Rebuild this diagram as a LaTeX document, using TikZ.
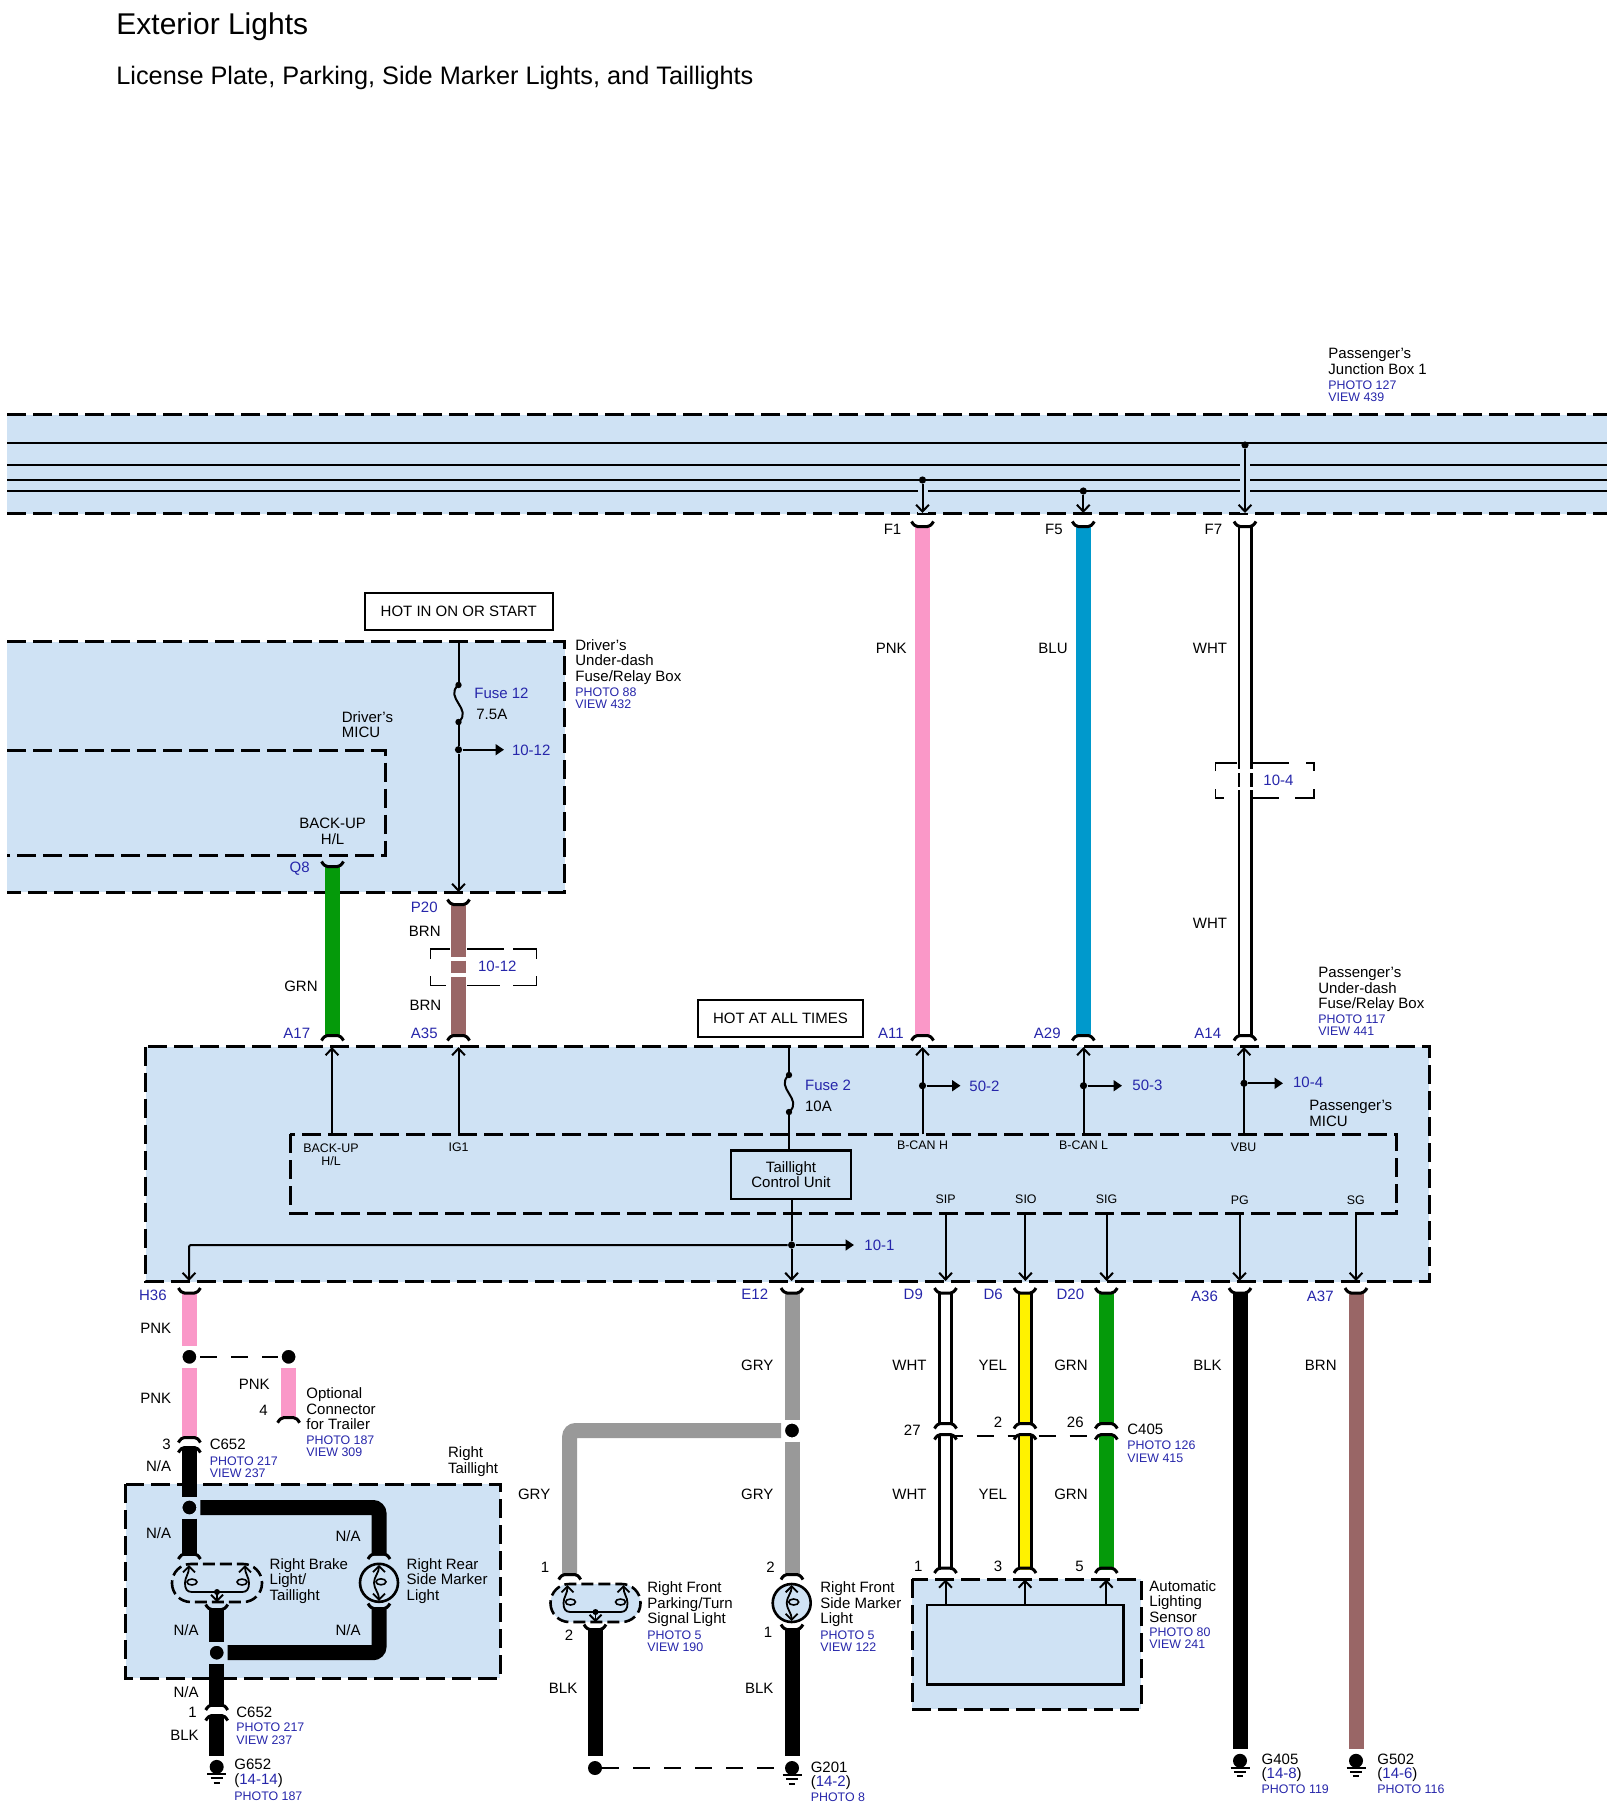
\documentclass[tikz,border=0pt]{standalone}
\usepackage{fontspec}
\setmainfont{Liberation Sans}
\usetikzlibrary{arrows.meta}
\definecolor{boxblue}{RGB}{207,226,244}
\definecolor{tagblue}{RGB}{38,38,170}
\definecolor{pnkwire}{RGB}{250,152,200}
\definecolor{bluwire}{RGB}{0,153,204}
\definecolor{grnwire}{RGB}{5,154,10}
\definecolor{brnwire}{RGB}{153,102,102}
\definecolor{grywire}{RGB}{153,153,153}
\tikzset{
  lblw/.style={anchor=west,align=left,inner sep=0pt,font=\fontsize{7.5}{7.75}\selectfont},
  lble/.style={lblw,anchor=east,align=right},
  lblc/.style={lblw,anchor=center,align=center},
  tagw/.style={lblw,text=tagblue},
  tage/.style={lble,text=tagblue},
  phow/.style={lblw,text=tagblue,font=\fontsize{6.2}{6.1}\selectfont},
  pinc/.style={lblc,font=\fontsize{6.2}{6.6}\selectfont},
  hotbox/.style={draw,line width=1pt,inner sep=0pt,font=\fontsize{7.5}{7.6}\selectfont,align=center},
  boxdash/.style={line width=1.5pt,dash pattern=on 9.5pt off 3.5pt},
  conn/.style={line width=1pt},
  linkdash/.style={line width=1pt,dash pattern=on 8.5pt off 7pt},
  tip/.style={conn,-{Straight Barb[length=3.4pt,width=6.4pt]}},
  side/.style={conn,-{Triangle[length=4.2pt,width=5.4pt]}},
  gapline/.style={line width=5pt,draw=boxblue},
  brk/.style={line width=.6pt},
  wirepnk/.style={line width=7.5pt,draw=pnkwire},
  wireblu/.style={line width=7.5pt,draw=bluwire},
  wiregrn/.style={line width=7.5pt,draw=grnwire},
  wirebrn/.style={line width=7.5pt,draw=brnwire},
  wiregry/.style={line width=7.5pt,draw=grywire},
  wireblk/.style={line width=7.5pt,draw=black},
  wirewht/.style={line width=1.35pt,draw=black,double=white,double distance=4.8pt},
  wireyel/.style={line width=1.35pt,draw=black,double=yellow,double distance=4.8pt},
  jwhite/.style={circle,fill=black,draw=white,line width=2pt,inner sep=0pt,minimum size=9pt},
  jblue/.style={jwhite,draw=boxblue},
  tapdot/.style={circle,fill=black,inner sep=0pt,minimum size=3.6pt},
  capt/.pic={\draw[line width=1.5pt] (-11,-3.5) .. controls (-9,0) and (-7,1.5) .. (-5,1.5) -- (5,1.5) .. controls (7,1.5) and (9,0) .. (11,-3.5);},
  capb/.pic={\draw[line width=1.5pt] (-11,3.5) .. controls (-9,0) and (-7,-1.5) .. (-5,-1.5) -- (5,-1.5) .. controls (7,-1.5) and (9,0) .. (11,3.5);},
  fusemark/.pic={
    \fill (0,-18.5) circle [radius=3.2];
    \fill (0,18.5) circle [radius=3.2];
    \draw[conn] (0,-18.5) .. controls (-15,-6) and (15,6) .. (0,18.5);},
  earth/.pic={
    \fill (0,0) circle [radius=7];
    \draw[line width=1pt] (-9.5,7) -- (9.5,7) (-6,11.2) -- (6,11.2) (-3.2,15.6) -- (3.2,15.6);},
  lampoval/.pic={
    \draw[line width=1.3pt,fill=boxblue,dash pattern=on 6pt off 2.5pt,rounded corners=9.4pt] (-45,-19) rectangle (45,19);
    \draw[line width=.9pt,{Straight Barb[length=3pt,width=6pt]}-{Straight Barb[length=3pt,width=6pt]}] (-28,-18) .. controls (-28,-9) and (-32,-6) .. (-32,0) .. controls (-32,6) and (-30,9) .. (-25,9) -- (25,9) .. controls (30,9) and (32,6) .. (32,0) .. controls (32,-6) and (28,-9) .. (28,-18);
    \draw[line width=.8pt] (-25,-1) ellipse [x radius=5,y radius=3];
    \draw[line width=.8pt] (25,-1) ellipse [x radius=5,y radius=3];
    \fill (0,9) circle [radius=3];
    \draw[line width=.9pt,-{Straight Barb[length=3pt,width=6pt]}] (0,9) -- (0,19);},
  lampround/.pic={
    \draw[line width=1.3pt,fill=boxblue] (0,0) circle [radius=19];
    \draw[line width=.9pt,{Straight Barb[length=3pt,width=6pt]}-{Straight Barb[length=3pt,width=6pt]}] (0,-18) .. controls (0,-10) and (-5,-6) .. (-5,0) .. controls (-5,6) and (0,10) .. (0,18);
    \draw[line width=.8pt] (2,-1) ellipse [x radius=5,y radius=3];},
}
\begin{document}
\begin{tikzpicture}[x=.5pt,y=-.5pt,line join=miter]
\useasboundingbox (0,0) rectangle (1614,1814);
% title
\node (ttl) at (116,27) [lblw,font=\fontsize{15}{16}\selectfont] {Exterior Lights};
\node (sub) at (116,77.5) [lblw,font=\fontsize{12.65}{14}\selectfont] {License Plate, Parking, Side Marker Lights, and Taillights};
% boxes
\fill[boxblue] (7,414.5) rectangle (1607,513.5);
\fill[boxblue] (7,641.7) rectangle (564.7,892.3);
\fill[boxblue] (145.5,1046.7) rectangle (1429,1281.7);
\fill[boxblue] (125.7,1484.4) rectangle (500,1678);
\fill[boxblue] (912,1579.4) rectangle (1141,1709.4);
\draw[boxdash] (7,414.5) -- (1607,414.5);
\draw[boxdash] (7,513.5) -- (1607,513.5);
\draw[boxdash] (7,641.7) -- (564.7,641.7) -- (564.7,892.3) -- (7,892.3);
\draw[boxdash] (7,750.7) -- (385,750.7) -- (385,855.7) -- (7,855.7);
\draw[boxdash] (145.5,1046.7) rectangle (1429,1281.7);
\draw[boxdash] (290,1134.3) rectangle (1396.5,1213.3);
\draw[boxdash] (125.7,1484.4) rectangle (500,1678);
\draw[boxdash] (912,1579.4) rectangle (1141,1709.4);
\draw[line width=1.2pt] (927,1605) rectangle (1123.5,1684.3);
% bus lines in the junction box
\coordinate (busa) at (7,443);
\coordinate (busae) at (1607,443);
\coordinate (busb) at (7,465);
\coordinate (busbe) at (1607,465);
\coordinate (busc) at (7,480);
\coordinate (busce) at (1607,480);
\coordinate (busd) at (7,491);
\coordinate (busde) at (1607,491);
\draw [conn] (busa) -- (busae);
\draw [conn] (busb) -- (busbe);
\draw [conn] (busc) -- (busce);
\draw [conn] (busd) -- (busde);
\coordinate (f1in) at (922.5,513);
\coordinate (f5in) at (1083.3,513);
\coordinate (f7in) at (1245,513);
\coordinate (f1gap) at (922.5,486);
\coordinate (f7gap) at (1245,453);
\draw [gapline] (f1gap) -- (f1in);
\draw [gapline] (f7gap) -- (f7in);
\node (f1dot) at (922.5,480) [tapdot] {};
\node (f5dot) at (1083.3,491) [tapdot] {};
\node (f7dot) at (1245,445) [tapdot] {};
\draw [tip] (f1dot) -- (f1in);
\draw [tip] (f5dot) -- (f5in);
\draw [tip] (f7dot) -- (f7in);
% wires from the junction box
\coordinate (f1) at (922.5,525);
\coordinate (f5) at (1083.3,525);
\coordinate (f7) at (1245,525);
\coordinate (a11) at (922.5,1037);
\coordinate (a29) at (1083.3,1037);
\coordinate (a14) at (1245,1037);
\coordinate (q8) at (332.5,865);
\coordinate (a17) at (332.5,1037);
\coordinate (p20) at (458.5,903);
\coordinate (a35) at (458.5,1037);
\coordinate (f7g1) at (1245,769);
\coordinate (f7g2) at (1245,773);
\coordinate (f7g3) at (1245,787);
\coordinate (f7g4) at (1245,790);
\coordinate (p20g1) at (458.5,956.7);
\coordinate (p20g2) at (458.5,960.7);
\coordinate (p20g3) at (458.5,973);
\coordinate (p20g4) at (458.5,977);
\draw [wirepnk] (f1) -- (a11);
\draw [wireblu] (f5) -- (a29);
\draw [wirewht] (f7) -- (f7g1) (f7g2) -- (f7g3) (f7g4) -- (a14);
\draw [wiregrn] (q8) -- (a17);
\draw [wirebrn] (p20) -- (p20g1) (p20g2) -- (p20g3) (p20g4) -- (a35);
% dashed brackets
\draw [brk] (430.4,959) -- (430.4,949) -- (450,949) (467,949) -- (504,949) (513,949) -- (536.6,949) -- (536.6,959);
\draw [brk] (430.4,976) -- (430.4,985.7) -- (446,985.7) (467,985.7) -- (500,985.7) (513,985.7) -- (536.6,985.7) -- (536.6,976);
\draw [brk] (1215.7,771) -- (1215.7,763) -- (1237,763) (1252,763) -- (1289,763) (1306,763) -- (1314,763) -- (1314,771);
\draw [brk] (1215.7,789) -- (1215.7,798) -- (1224,798) (1252,798) -- (1279,798) (1295,798) -- (1314,798) -- (1314,789);
% driver's box
\coordinate (fs12in) at (458.5,641.7);
\coordinate (fs12) at (458.5,703.5);
\coordinate (fs12t) at (458.5,685);
\coordinate (fs12b) at (458.5,722);
\coordinate (p20in) at (458.5,892);
\node (drvtap) at (458.5,749.7) [tapdot] {};
\coordinate (drvend) at (504,749.7);
\draw [conn] (fs12in) -- (fs12t);
\draw [conn] (fs12b) -- (drvtap);
\draw [tip] (drvtap) -- (p20in);
\draw [side] (drvtap) -- (drvend);
\pic at (fs12) {fusemark};
% passenger's box, upper side
\coordinate (a17in) at (332,1047);
\coordinate (a17mi) at (332,1134.3);
\coordinate (a35in) at (458.5,1047);
\coordinate (a35mi) at (458.5,1134.3);
\coordinate (a11in) at (922.5,1047);
\coordinate (a11mi) at (922.5,1134.3);
\coordinate (a29in) at (1083.5,1047);
\coordinate (a29mi) at (1083.5,1134.3);
\coordinate (a14in) at (1244,1047);
\coordinate (a14mi) at (1244,1134.3);
\draw [tip] (a17mi) -- (a17in);
\draw [tip] (a35mi) -- (a35in);
\draw [tip] (a11mi) -- (a11in);
\draw [tip] (a29mi) -- (a29in);
\draw [tip] (a14mi) -- (a14in);
\node (a11dot) at (922.5,1085.7) [tapdot] {};
\node (a29dot) at (1083.5,1085.7) [tapdot] {};
\node (a14dot) at (1244,1083.3) [tapdot] {};
\coordinate (a11end) at (960.5,1085.7);
\coordinate (a29end) at (1122,1085.7);
\coordinate (a14end) at (1283,1083.3);
\draw [side] (a11dot) -- (a11end);
\draw [side] (a29dot) -- (a29end);
\draw [side] (a14dot) -- (a14end);
% fuse 2 and the control unit
\coordinate (fs2in) at (789,1047);
\coordinate (fs2) at (789,1093.5);
\coordinate (fs2t) at (789,1075);
\coordinate (fs2b) at (789,1112);
\node (unit) at (791,1174.5) [hotbox,fill=boxblue,line width=1.3pt,minimum width=60pt,minimum height=24.3pt] {Taillight\\Control Unit};
\draw [conn] (fs2in) -- (fs2t);
\draw [conn] (fs2b) -- (fs2b |- unit.north);
\pic at (fs2) {fusemark};
\node (untap) at (791.6,1245) [tapdot] {};
\coordinate (e12in) at (791.6,1281);
\coordinate (h36cn) at (189,1245);
\coordinate (h36in) at (189,1281);
\coordinate (rgtend) at (854,1245);
\draw [conn] (unit.south -| untap) -- (untap);
\draw [tip] (untap) -- (e12in);
\draw [side] (untap) -- (rgtend);
\draw [tip,rounded corners=1pt] (untap) -- (h36cn) -- (h36in);
% passenger's box, lower side
\coordinate (sipmi) at (945.6,1213.3);
\coordinate (siomi) at (1025.4,1213.3);
\coordinate (sigmi) at (1106.6,1213.3);
\coordinate (pgmi) at (1239.5,1213.3);
\coordinate (sgmi) at (1356,1213.3);
\coordinate (sipin) at (945.6,1281);
\coordinate (sioin) at (1025.4,1281);
\coordinate (sigin) at (1106.6,1281);
\coordinate (pgin) at (1239.5,1281);
\coordinate (sgin) at (1356,1281);
\draw [tip] (sipmi) -- (sipin);
\draw [tip] (siomi) -- (sioin);
\draw [tip] (sigmi) -- (sigin);
\draw [tip] (pgmi) -- (pgin);
\draw [tip] (sgmi) -- (sgin);
% grounds on the right
\coordinate (a36) at (1240,1291.5);
\coordinate (a37) at (1356,1291.5);
\coordinate (g405w) at (1240,1749.2);
\coordinate (g502w) at (1356,1749.2);
\coordinate (g405) at (1240,1760.8);
\coordinate (g502) at (1356,1760.8);
\draw [wireblk] (a36) -- (g405w);
\draw [wirebrn] (a37) -- (g502w);
\pic at (g405) {earth};
\pic at (g502) {earth};
% sensor wires
\coordinate (d9) at (945.5,1291.5);
\coordinate (d6) at (1025,1291.5);
\coordinate (d20) at (1106.3,1291.5);
\coordinate (c27u) at (945.5,1425);
\coordinate (c2u) at (1025,1425);
\coordinate (c26u) at (1106.3,1425);
\coordinate (c27d) at (945.5,1436);
\coordinate (c2d) at (1025,1436);
\coordinate (c26d) at (1106.3,1436);
\coordinate (s1) at (945.5,1569.5);
\coordinate (s3) at (1025,1569.5);
\coordinate (s5) at (1106.3,1569.5);
\draw [wirewht] (d9) -- (c27u);
\draw [wireyel] (d6) -- (c2u);
\draw [wiregrn] (d20) -- (c26u);
\draw [linkdash] (c27d) -- (c26d);
\draw [wirewht] (c27d) -- (s1);
\draw [wireyel] (c2d) -- (s3);
\draw [wiregrn] (c26d) -- (s5);
\coordinate (s1in) at (945.5,1579.4);
\coordinate (s3in) at (1025,1579.4);
\coordinate (s5in) at (1106.3,1579.4);
\coordinate (s1un) at (945.5,1605);
\coordinate (s3un) at (1025,1605);
\coordinate (s5un) at (1106.3,1605);
\draw [tip] (s1un) -- (s1in);
\draw [tip] (s3un) -- (s3in);
\draw [tip] (s5un) -- (s5in);
% grey branch and front lights
\coordinate (e12) at (792,1291.5);
\node (grydot) at (792,1430.5) [jwhite] {};
\coordinate (gryb) at (792,1576);
\coordinate (gryc) at (569.7,1430.5);
\coordinate (grya) at (569.7,1576);
\draw [wiregry] (e12) -- (grydot) -- (gryb);
\draw [wiregry,rounded corners=3pt] (grydot) -- (gryc) -- (grya);
\coordinate (frla) at (595.5,1603);
\coordinate (frlb) at (791.7,1603);
\pic at (frla) {lampoval};
\pic at (frlb) {lampround};
\coordinate (frao) at (595,1628);
\coordinate (frbo) at (792,1628);
\coordinate (frae) at (595,1755.5);
\coordinate (frbe) at (792,1755.5);
\draw [wireblk] (frao) -- (frae);
\draw [wireblk] (frbo) -- (frbe);
\node (frdot) at (595,1768) [circle,fill=black,inner sep=0pt,minimum size=7pt] {};
\coordinate (g201) at (792,1768);
\draw [linkdash] (frdot) -- (g201);
\pic at (g201) {earth};
% pink branch
\coordinate (h36) at (189.4,1291.5);
\node (pnkj) at (189.4,1356.8) [jwhite] {};
\node (trlj) at (288.6,1356.8) [jwhite] {};
\coordinate (c652a) at (189.4,1439);
\coordinate (trlc) at (288.6,1419.2);
\draw [wirepnk] (h36) -- (pnkj) -- (c652a);
\draw [wirepnk] (trlj) -- (trlc);
\draw [linkdash] (pnkj) -- (trlj);
% right taillight
\coordinate (c652b) at (189.4,1449);
\node (tlj) at (189.4,1507.5) [jblue] {};
\coordinate (brka) at (189.4,1555.5);
\coordinate (rrka) at (379,1555.5);
\coordinate (tlc) at (379,1507.5);
\coordinate (rrkb) at (379,1607);
\coordinate (brkb) at (216.7,1608);
\node (brj) at (216.7,1652.7) [jblue] {};
\coordinate (brc) at (379,1652.7);
\coordinate (c652c) at (216.7,1706.5);
\coordinate (c652d) at (216.7,1717);
\coordinate (g652w) at (216.7,1755.5);
\coordinate (g652) at (216.7,1766.9);
\draw [wireblk] (c652b) -- (tlj) -- (brka);
\draw [wireblk,rounded corners=3pt] (tlj) -- (tlc) -- (rrka);
\draw [wireblk,rounded corners=3pt] (rrkb) -- (brc) -- (brj);
\draw [wireblk] (brkb) -- (brj) -- (c652c);
\draw [wireblk] (c652d) -- (g652w);
\coordinate (brkl) at (217,1583);
\coordinate (rrkl) at (379,1582.8);
\pic at (brkl) {lampoval};
\pic at (rrkl) {lampround};
\pic at (g652) {earth};
% connector caps
\pic at (f1) {capt};
\pic at (f5) {capt};
\pic at (f7) {capt};
\pic at (q8) {capt};
\pic at (p20) {capt};
\pic at (h36) {capt};
\pic at (e12) {capt};
\pic at (d9) {capt};
\pic at (d6) {capt};
\pic at (d20) {capt};
\pic at (a36) {capt};
\pic at (a37) {capt};
\pic at (a11) {capb};
\pic at (a29) {capb};
\pic at (a14) {capb};
\pic at (a17) {capb};
\pic at (a35) {capb};
\pic at (c27u) {capb};
\pic at (c2u) {capb};
\pic at (c26u) {capb};
\pic at (c27d) {capb};
\pic at (c2d) {capb};
\pic at (c26d) {capb};
\pic at (s1) {capb};
\pic at (s3) {capb};
\pic at (s5) {capb};
\pic at (gryb) {capb};
\pic at (grya) {capb};
\pic at (frao) {capt};
\pic at (frbo) {capt};
\pic at (trlc) {capb};
\pic at (c652a) {capb};
\pic at (c652b) {capb};
\pic at (brka) {capb};
\pic at (rrka) {capb};
\pic at (brkb) {capt};
\pic at (rrkb) {capt};
\pic at (c652c) {capb};
\pic at (c652d) {capb};
% top labels
\node (jbname) at (1328,361.5) [lblw] {Passenger’s\\Junction Box 1};
\node (jbview) at (1328,391.5) [phow] {PHOTO 127\\VIEW 439};
\node (hoton) at (458.8,611.5) [hotbox,minimum width=93.8pt,minimum height=18.5pt] {HOT IN ON OR START};
\node (hotat) at (780.5,1018.3) [hotbox,minimum width=82.5pt,minimum height=18.3pt] {HOT AT ALL TIMES};
\node (f1l) at (901.7,529) [lble] {F1};
\node (f5l) at (1063,529) [lble] {F5};
\node (f7l) at (1222.5,529) [lble] {F7};
\node (pnka) at (907,648.5) [lble] {PNK};
\node (blua) at (1068,648.5) [lble] {BLU};
\node (whta) at (1227.5,648.5) [lble] {WHT};
\node (whtb) at (1227.5,923) [lble] {WHT};
\node (brk104) at (1263,780) [tagw] {10-4};
% driver's box labels
\node (drvname) at (575,662) [lblw] {Driver’s\\Under-dash\\Fuse/Relay Box};
\node (drvview) at (575,698) [phow] {PHOTO 88\\VIEW 432};
\node (fs12l) at (474,693) [tagw] {Fuse 12};
\node (fs12a) at (476,714) [lblw] {7.5A};
\node (drv1012) at (511.6,750) [tagw] {10-12};
\node (drvmicu) at (341.5,724.5) [lblw] {Driver’s\\MICU};
\node (drvback) at (332.6,831.5) [lblc] {BACK-UP\\H/L};
\node (q8l) at (310,869) [tage] {Q8};
\node (p20l) at (438,907) [tage] {P20};
\node (brna) at (441,931.7) [lble] {BRN};
\node (brk1012) at (477.7,966.7) [tagw] {10-12};
\node (grna) at (318,986) [lble] {GRN};
\node (brnb) at (441.7,1005) [lble] {BRN};
\node (a17l) at (310.5,1033) [tage] {A17};
\node (a35l) at (438,1033) [tage] {A35};
\node (a11l) at (904,1033) [tage] {A11};
\node (a29l) at (1061,1033) [tage] {A29};
\node (a14l) at (1221.5,1033) [tage] {A14};
% passenger's box labels
\node (pasname) at (1318,989.5) [lblw] {Passenger’s\\Under-dash\\Fuse/Relay Box};
\node (pasview) at (1318,1025) [phow] {PHOTO 117\\VIEW 441};
\node (fs2l) at (804.7,1085) [tagw] {Fuse 2};
\node (fs2a) at (804.7,1106) [lblw] {10A};
\node (to502) at (969,1086) [tagw] {50-2};
\node (to503) at (1132,1085) [tagw] {50-3};
\node (to104) at (1292.7,1082) [tagw] {10-4};
\node (to101) at (864,1245) [tagw] {10-1};
\node (pasmicu) at (1309,1113.5) [lblw] {Passenger’s\\MICU};
\node (pback) at (331,1154.5) [pinc] {BACK-UP\\H/L};
\node (pig1) at (458.6,1147.7) [pinc] {IG1};
\node (pcanh) at (922.5,1145.3) [pinc] {B-CAN H};
\node (pcanl) at (1083.6,1145.3) [pinc] {B-CAN L};
\node (pvbu) at (1243.6,1147.7) [pinc] {VBU};
\node (psip) at (945.6,1199.3) [pinc] {SIP};
\node (psio) at (1025.9,1199.3) [pinc] {SIO};
\node (psig) at (1106.6,1199.3) [pinc] {SIG};
\node (ppg) at (1239.8,1200) [pinc] {PG};
\node (psg) at (1355.7,1200) [pinc] {SG};
% lower labels, left
\node (h36l) at (167,1295.5) [tage] {H36};
\node (pnkb) at (171.5,1328) [lble] {PNK};
\node (pnkc) at (171.5,1398.4) [lble] {PNK};
\node (pnkd) at (270,1384.5) [lble] {PNK};
\node (trl4) at (268,1410) [lble] {4};
\node (trlname) at (306,1408.7) [lblw] {Optional\\Connector\\for Trailer};
\node (trlview) at (306,1445.9) [phow] {PHOTO 187\\VIEW 309};
\node (pin3) at (171,1444.6) [lble] {3};
\node (c652l) at (209.4,1444.6) [lblw] {C652};
\node (c652v) at (209.4,1467.6) [phow] {PHOTO 217\\VIEW 237};
\node (naa) at (171.5,1466.6) [lble] {N/A};
\node (tlname) at (447.7,1461.7) [lblw] {Right\\Taillight};
\node (nab) at (171.5,1532.7) [lble] {N/A};
\node (nac) at (361,1535.9) [lble] {N/A};
\node (brkname) at (269.3,1580.9) [lblw] {Right Brake\\Light/\\Taillight};
\node (rrkname) at (406.3,1580.9) [lblw] {Right Rear\\Side Marker\\Light};
\node (nad) at (199,1630.5) [lble] {N/A};
\node (nae) at (361,1630.5) [lble] {N/A};
\node (naf) at (199,1691.7) [lble] {N/A};
\node (pin1) at (197,1712) [lble] {1};
\node (c652m) at (236,1712) [lblw] {C652};
\node (c652w) at (236,1733.7) [phow] {PHOTO 217\\VIEW 237};
\node (blka) at (199,1735.7) [lble] {BLK};
\node (g652a) at (234,1764.4) [lblw] {G652};
\node (g652b) at (234,1780.9) [lblw] {(\textcolor{tagblue}{14-14})};
\node (g652c) at (234,1796.4) [phow] {PHOTO 187};
% lower labels, middle
\node (e12l) at (768.5,1293.9) [tage] {E12};
\node (grya1) at (773.8,1365.7) [lble] {GRY};
\node (grya2) at (773.8,1494.3) [lble] {GRY};
\node (grya3) at (550.7,1494.3) [lble] {GRY};
\node (pin1a) at (549.5,1567.5) [lble] {1};
\node (pin2a) at (775,1567.5) [lble] {2};
\node (frname) at (647,1604.1) [lblw] {Right Front\\Parking/Turn\\Signal Light};
\node (frview) at (647,1641.3) [phow] {PHOTO 5\\VIEW 190};
\node (pin2b) at (573.5,1634.8) [lble] {2};
\node (fsname) at (820,1604.1) [lblw] {Right Front\\Side Marker\\Light};
\node (fsview) at (820,1641.3) [phow] {PHOTO 5\\VIEW 122};
\node (pin1b) at (772.5,1632.8) [lble] {1};
\node (blkb) at (577.7,1688.8) [lble] {BLK};
\node (blkc) at (773.8,1688.8) [lble] {BLK};
\node (g201a) at (810.4,1767.4) [lblw] {G201};
\node (g201b) at (810.4,1782.2) [lblw] {(\textcolor{tagblue}{14-2})};
\node (g201c) at (810.4,1797.5) [phow] {PHOTO 8};
% lower labels, sensor
\node (d9l) at (923.3,1293.9) [tage] {D9};
\node (d6l) at (1003.2,1293.9) [tage] {D6};
\node (d20l) at (1084.5,1293.9) [tage] {D20};
\node (whtc) at (927,1365.7) [lble] {WHT};
\node (yela) at (1007.4,1365.7) [lble] {YEL};
\node (grnb) at (1088,1365.7) [lble] {GRN};
\node (whtd) at (927,1494.3) [lble] {WHT};
\node (yelb) at (1007.4,1494.3) [lble] {YEL};
\node (grnc) at (1088,1494.3) [lble] {GRN};
\node (pin27) at (921,1429.8) [lble] {27};
\node (pin2) at (1002.7,1421.9) [lble] {2};
\node (pin26) at (1084,1421.9) [lble] {26};
\node (c405l) at (1127,1429.8) [lblw] {C405};
\node (c405v) at (1127,1451.8) [phow] {PHOTO 126\\VIEW 415};
\node (sp1) at (922.8,1566.5) [lble] {1};
\node (sp3) at (1002.7,1566.5) [lble] {3};
\node (sp5) at (1084,1566.5) [lble] {5};
\node (senname) at (1149,1601.2) [lblw] {Automatic\\Lighting\\Sensor};
\node (senview) at (1149,1637.8) [phow] {PHOTO 80\\VIEW 241};
% lower labels, right
\node (a36l) at (1218.3,1296) [tage] {A36};
\node (a37l) at (1334,1296) [tage] {A37};
\node (blkd) at (1222,1365.5) [lble] {BLK};
\node (brnc) at (1337,1365.5) [lble] {BRN};
\node (g405a) at (1261.3,1759.8) [lblw] {G405};
\node (g405b) at (1261.3,1774.7) [lblw] {(\textcolor{tagblue}{14-8})};
\node (g405c) at (1261.3,1789.5) [phow] {PHOTO 119};
\node (g502a) at (1377,1759.8) [lblw] {G502};
\node (g502b) at (1377,1774.7) [lblw] {(\textcolor{tagblue}{14-6})};
\node (g502c) at (1377,1789.5) [phow] {PHOTO 116};
\end{tikzpicture}
\end{document}
